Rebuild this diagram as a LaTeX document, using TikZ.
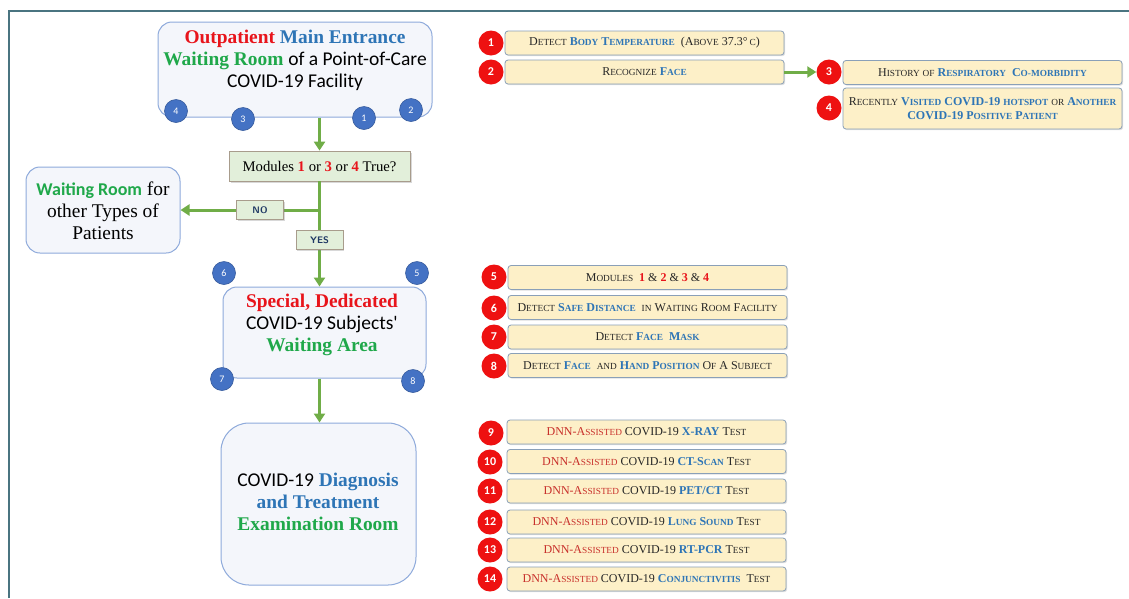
\documentclass[tikz,border=0pt]{standalone}
\usepackage{fontspec}
\setmainfont{Liberation Serif}
\newfontfamily\calf{Carlito}
\usetikzlibrary{arrows.meta,shadows}

\definecolor{framec}{HTML}{4A7480}
\definecolor{bboxd}{HTML}{8EAADB}
\definecolor{bboxf}{HTML}{F4F6FB}
\definecolor{cred}{HTML}{E8141B}
\definecolor{cblue}{HTML}{2E75B6}
\definecolor{cgreen}{HTML}{1FA84A}
\definecolor{flowc}{HTML}{70AD47}
\definecolor{decf}{HTML}{E2EFDA}
\definecolor{decd}{HTML}{A89C8C}
\definecolor{dotb}{HTML}{4472C4}
\definecolor{dotr}{HTML}{EE1111}
\definecolor{itemf}{HTML}{FDF0C8}
\definecolor{itemd}{HTML}{8AA0B8}
\definecolor{itemt}{HTML}{262626}
\definecolor{dnn}{HTML}{C8302B}
\definecolor{lbl}{HTML}{1F3864}

% fake small caps: first letter full size, the rest uppercase and smaller
\newcommand\scs[1]{{\fontsize{9.3}{11}\selectfont\uppercase{#1}}}
\makeatletter
\let\SCstop\relax
\def\scw#1#2\@nil{#1\scs{#2}}
\def\SC#1{\SC@a#1 \SCstop}
\def\SC@a#1 #2\SCstop{\scw#1\@nil\ifx\relax#2\relax\else\ \SC@a#2\SCstop\fi}
\makeatother
\newcommand\hb[1]{{\bfseries\color{cblue}#1}}
\newcommand\rn[1]{{\bfseries\color{cred}#1}}
\newcommand\dnnA{{\color{dnn}DNN-A\scs{ssisted}}}
\newcommand\cb[1]{{\calf\fontsize{19.5}{22}\selectfont #1}}

\tikzset{
  bigbox/.style={draw=bboxd, fill=bboxf, line width=1pt, rounded corners=14pt},
  bigtext/.style={align=center, font=\fontsize{19.4}{22}\selectfont},
  bluedot/.style={circle, fill=dotb, draw=dotb!80!black, line width=0.6pt, minimum size=23pt, inner sep=0pt, text=white, font=\calf\fontsize{10}{10}\selectfont},
  reddot/.style={circle, fill=dotr, minimum size=25pt, inner sep=0pt, text=white, font=\calf\bfseries\fontsize{12}{12}\selectfont},
  item/.style={draw=itemd, fill=itemf, line width=0.8pt, rounded corners=3pt, minimum width=279pt, minimum height=24pt, inner sep=1pt, text=itemt, align=center, font=\fontsize{12}{13.5}\selectfont, drop shadow={opacity=0.25, shadow xshift=1.2pt, shadow yshift=-1.2pt}},
  decbox/.style={draw=decd, fill=decf, line width=0.8pt, drop shadow={opacity=0.3, shadow xshift=1.5pt, shadow yshift=-1.5pt}},
  lblbox/.style={draw=decd, fill=decf, line width=0.8pt, minimum width=47pt, minimum height=19pt, inner sep=0pt, text=lbl, font=\sffamily\bfseries\fontsize{9.5}{9.5}\selectfont, drop shadow={opacity=0.3, shadow xshift=1.2pt, shadow yshift=-1.2pt}},
  flow/.style={draw=flowc, line width=3pt, -{Triangle[length=9pt,width=11pt]}},
  flowline/.style={draw=flowc, line width=3pt},
}

\begin{document}
\begin{tikzpicture}[x=1pt, y=-1pt]
\useasboundingbox (0,0) rectangle (1129,598);
\fill[white] (0,0) rectangle (1129,598);

% outer frame
\draw[framec, line width=2pt] (9,598) -- (9,11) -- (1129,11);

% ---- left flow ----
\node[bigbox, minimum width=274pt, minimum height=95pt] (main) at (295,69.5) {};
\node[bigtext] (maint) at (295,60) {{\bfseries\color{cred}Outpatient} {\bfseries\color{cblue}Main Entrance}\\
  {\bfseries\color{cgreen}Waiting Room} \cb{of a Point-of-Care}\\
  \cb{COVID-19 Facility}};
\node[bluedot] (b4) at (176,111) {4};
\node[bluedot] (b3) at (243,119) {3};
\node[bluedot] (b1) at (364,118) {1};
\node[bluedot] (b2) at (411,110) {2};

\node[decbox, minimum width=181pt, minimum height=30pt, font=\fontsize{14.7}{16}\selectfont] (dec) at (319.5,166)
  {Modules \rn{1} or \rn{3} or \rn{4} True?};

\node[bigbox, minimum width=154pt, minimum height=86pt] (wr) at (103,210) {};
\node[bigtext] (wrt) at (103,211) {{\calf\bfseries\fontsize{18}{22}\selectfont\color{cgreen}Waiting Room} for\\ other Types of\\ Patients};

\node[bigbox, minimum width=203pt, minimum height=91pt] (spec) at (324.5,332.5) {};
\node[bigtext] (spect) at (322,324.5) {{\bfseries\color{cred}Special, Dedicated}\\
  \cb{COVID-19 Subjects'}\\ {\bfseries\color{cgreen}Waiting Area}};
\node[bluedot] (b6) at (224,273) {6};
\node[bluedot] (b5) at (417,273) {5};
\node[bluedot] (b7) at (222,379) {7};
\node[bluedot] (b8) at (413,381) {8};

\node[bigbox, rounded corners=28pt, minimum width=195pt, minimum height=162pt] (exam) at (318.5,504) {};
\node[bigtext] (examt) at (318,502) {\cb{COVID-19} {\bfseries\color{cblue}Diagnosis}\\
  {\bfseries\color{cblue}and Treatment}\\ {\bfseries\color{cgreen}Examination Room}};

% connectors
\coordinate (j) at (dec.south |- wr.east);
\draw[flow] (dec.north |- main.south) -- (dec.north);
\draw[flowline] (dec.south) -- (j);
\draw[flow] (j) -- (wr.east);
\draw[flow] (j) -- (dec.south |- spec.north);
\draw[flow] (dec.south |- spec.south) -- (dec.south |- exam.north);
\node[lblbox] (no) at (260,210) {NO};
\node[lblbox] (yes) at (319.5,240) {YES};

% ---- right column: modules ----
\node[item] (r1) at (644.5,43) {\SC{Detect} \hb{\SC{Body Temperature}} \ (A\scs{bove} 37.3°\,\scs{c})};
\node[reddot] (c1) at (491,43) {1};
\node[item] (r2) at (644.5,72) {\SC{Recognize} \hb{\SC{Face}}};
\node[reddot] (c2) at (491,72) {2};
\node[item] (r3) at (982.5,72.5) {\SC{History} \scs{of} \hb{\SC{Respiratory} \ \SC{Co-morbidity}}};
\node[reddot] (c3) at (829,72) {3};
\node[item, minimum height=41pt] (r4) at (982.5,108.5) {\SC{Recently} \hb{\SC{Visited} COVID-19 \scs{hotspot}} \scs{or} \hb{\SC{Another}}\\
  \hb{COVID-19 \SC{Positive Patient}}};
\node[reddot] (c4) at (829,108) {4};
\draw[flow] (r2.east) -- (c3.west);

\node[item] (r5) at (647.5,277.5) {\SC{Modules} \ \rn{1} \& \rn{2} \& \rn{3} \& \rn{4}};
\node[reddot] (c5) at (494,277) {5};
\node[item] (r6) at (647.5,307.5) {\SC{Detect} \hb{\SC{Safe Distance}} \ \scs{in} \SC{Waiting Room Facility}};
\node[reddot] (c6) at (494,308) {6};
\node[item] (r7) at (647.5,337) {\SC{Detect} \hb{\SC{Face} \ \SC{Mask}}};
\node[reddot] (c7) at (494,337) {7};
\node[item] (r8) at (647.5,365.5) {\SC{Detect} \hb{\SC{Face}} \ \scs{and} \hb{\SC{Hand Position}} \SC{Of A Subject}};
\node[reddot] (c8) at (494,366) {8};

% ---- right column: tests ----
\node[item] (r9) at (646.5,432) {\dnnA{} COVID-19 \hb{X-RAY} T\scs{est}};
\node[reddot] (c9) at (491,433) {9};
\node[item] (r10) at (646.5,461.5) {\dnnA{} COVID-19 \hb{CT-S\scs{can}} T\scs{est}};
\node[reddot] (c10) at (490,462) {10};
\node[item] (r11) at (646.5,491) {\dnnA{} COVID-19 \hb{PET/CT} T\scs{est}};
\node[reddot] (c11) at (490,491) {11};
\node[item] (r12) at (646.5,522) {\dnnA{} COVID-19 \hb{\SC{Lung Sound}} T\scs{est}};
\node[reddot] (c12) at (490,522) {12};
\node[item] (r13) at (646.5,550) {\dnnA{} COVID-19 \hb{RT-PCR} T\scs{est}};
\node[reddot] (c13) at (490,550) {13};
\node[item] (r14) at (646.5,579) {\dnnA{} COVID-19 \hb{\SC{Conjunctivitis}} \ T\scs{est}};
\node[reddot] (c14) at (490,579) {14};
\end{tikzpicture}
\end{document}
